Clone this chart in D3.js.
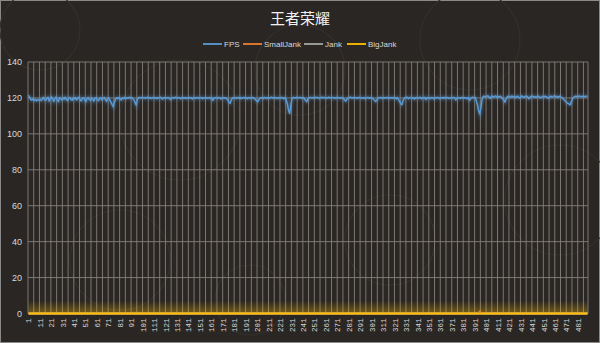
<!DOCTYPE html>
<html><head><meta charset="utf-8">
<script src="https://cdn.jsdelivr.net/npm/d3@7"></script>
<style>html,body{margin:0;padding:0;background:#2a2623;}svg{display:block;}</style>
</head><body>
<svg id="c" width="600" height="343"></svg>
<script>
const title = "王者荣耀";
const seriesNames = ["FPS","SmallJank","Jank","BigJank"];
const seriesColors = ["#5b9bd5","#ed7d31","#a5a5a5","#ffc000"];
const yTicks = [0,20,40,60,80,100,120,140];
const fps = [
121.5,120.2,119.0,118.8,119.5,118.6,119.1,118.4,119.0,118.7,
119.3,118.5,119.2,120.3,119.0,118.6,119.8,120.4,118.2,119.5,
120.6,119.4,118.0,119.7,120.5,119.1,117.9,120.2,119.6,118.8,
120.1,119.3,120.4,119.0,118.5,119.9,120.3,119.2,118.7,120.0,
119.4,120.2,118.9,119.6,120.5,119.0,118.3,119.8,120.1,119.2,
117.8,119.5,120.3,119.1,118.6,120.0,119.4,118.2,119.9,120.2,
119.0,118.4,119.7,120.1,118.9,119.5,120.3,119.2,118.1,119.6,
120.0,118.8,117.5,116.2,115.0,117.8,119.4,120.1,119.6,120.2,
119.3,118.9,120.0,119.7,120.3,119.5,120.1,119.8,120.4,119.9,
120.2,119.6,118.8,117.4,116.0,119.2,120.1,120.3,119.9,120.2,
120.0,120.3,119.7,120.1,120.4,119.9,120.2,119.6,120.0,120.3,
119.8,120.1,119.5,120.2,119.9,120.4,120.0,119.3,120.1,120.2,
119.7,120.0,120.3,119.6,119.1,120.0,120.2,119.8,120.4,120.1,
119.9,120.2,120.0,119.5,120.3,120.1,119.8,120.2,119.6,120.0,
120.3,119.9,120.1,119.4,120.2,120.0,119.7,120.3,120.1,119.8,
120.0,120.2,119.5,120.1,119.9,120.3,119.7,120.0,120.2,119.6,
120.1,118.6,119.8,120.2,120.0,119.7,120.3,120.1,119.4,120.0,
120.2,119.8,120.1,119.5,118.9,117.6,117.0,118.8,119.9,120.2,
120.0,119.7,120.3,120.1,119.8,120.2,119.6,120.0,120.3,119.9,
120.1,119.5,120.2,120.0,119.7,120.3,120.1,119.8,119.2,118.5,
117.8,118.9,119.9,120.2,120.0,119.6,120.3,120.1,119.8,120.2,
119.7,120.0,120.4,120.1,119.9,120.3,120.0,119.6,120.2,120.1,
119.8,120.3,120.0,119.5,120.2,119.0,116.5,113.0,111.3,115.8,
119.5,120.3,120.1,119.9,120.4,120.2,120.0,120.3,120.1,119.8,
120.2,119.5,118.4,117.9,119.6,120.1,120.3,120.0,120.2,119.9,
120.4,120.1,120.3,120.0,119.7,120.2,120.4,120.1,120.3,120.0,
119.8,120.2,120.4,120.1,119.9,120.3,120.0,120.2,119.7,120.1,
120.3,120.0,119.8,120.2,120.1,119.6,118.9,118.2,119.4,120.0,
120.2,120.4,120.1,119.9,120.3,120.0,120.2,119.8,120.1,120.3,
120.0,119.7,120.2,120.1,119.5,120.0,120.3,120.1,119.8,120.2,
120.0,119.4,118.8,118.0,118.7,119.6,120.1,120.3,120.0,119.7,
120.2,120.1,119.9,120.3,120.0,119.6,120.2,120.1,119.8,120.3,
120.0,119.5,120.2,119.1,118.0,116.8,116.2,118.5,119.8,120.2,
120.4,120.1,119.6,120.3,120.0,119.8,120.2,119.3,120.1,120.3,
119.7,120.0,120.4,119.5,120.1,119.9,120.3,119.0,120.2,119.8,
120.1,119.6,120.3,120.0,119.4,120.2,119.9,120.3,120.1,119.5,
120.0,120.2,119.7,120.4,119.8,120.1,120.3,119.6,120.0,120.2,
119.9,120.3,120.1,118.9,119.8,120.2,120.0,119.7,120.3,120.1,
119.8,120.2,120.0,119.6,120.1,118.7,119.5,120.2,120.4,119.9,
120.3,118.5,116.0,112.8,111.0,114.5,119.0,120.8,121.0,120.6,
120.9,121.2,120.5,119.8,120.7,121.0,120.4,120.9,121.1,120.3,
120.8,120.5,121.0,120.2,119.6,118.9,117.6,119.4,120.6,121.0,
120.7,120.3,121.1,120.5,120.9,120.2,120.6,121.0,120.4,119.9,
120.8,121.1,120.5,120.3,120.9,121.0,120.4,119.5,120.6,120.9,
121.0,120.5,120.8,120.2,120.7,121.1,120.6,120.0,120.4,120.9,
120.5,121.0,120.7,120.3,119.8,120.6,121.0,120.4,120.8,121.2,
120.6,120.9,120.2,120.7,121.0,120.5,120.1,119.4,118.8,118.0,
117.4,117.0,116.5,116.2,118.0,119.5,120.3,120.8,121.0,120.6,
120.9,121.1,120.7,120.8,121.0,120.6,120.9,121.0,120.8
];
// jank series are zero everywhere except these [category, value] events
const smallJankEvents = [[395,1]];
const jankEvents = [];
const bigJankEvents = [];

const categories = fps.map((d,i)=>i+1);
function fromEvents(ev){ const m=new Map(ev); return categories.map(c=>m.get(c)||0); }
const series = [fps, fromEvents(smallJankEvents), fromEvents(jankEvents), fromEvents(bigJankEvents)];

const svg = d3.select("#c");
const W=600,H=343, L=28, R=588, T=62, B=313.5;
const bg = "#2a2623";
svg.append("rect").attr("x",0.5).attr("y",0.5).attr("width",W-1).attr("height",H-1)
  .attr("fill",bg).attr("stroke","#8a8a8a").attr("stroke-width",1);

// faint background ornament
const orn = svg.append("g").attr("fill","none").attr("stroke","#34302c").attr("stroke-width",1.2);
[[40,30,40],[180,120,60],[300,70,45],[470,40,50],[560,200,55],[120,260,50],[390,240,45],[250,300,35]].forEach(c=>{
  orn.append("circle").attr("cx",c[0]).attr("cy",c[1]).attr("r",c[2]);
});

const defs = svg.append("defs");
const f1 = defs.append("filter").attr("id","glow").attr("x","-10%").attr("y","-50%").attr("width","120%").attr("height","200%");
f1.append("feGaussianBlur").attr("stdDeviation",1.5);
const grad = defs.append("linearGradient").attr("id","ygl").attr("x1",0).attr("x2",0).attr("y1",0).attr("y2",1);
grad.append("stop").attr("offset","0%").attr("stop-color","#ffc000").attr("stop-opacity",0);
grad.append("stop").attr("offset","100%").attr("stop-color","#ffc000").attr("stop-opacity",0.35);

const x = d3.scaleBand().domain(categories).range([L,R]).paddingInner(0).paddingOuter(0);
const y = d3.scaleLinear().domain([0,140]).range([B,T]);

// horizontal gridlines
svg.append("g").selectAll("line").data(yTicks).join("line")
  .attr("x1",L).attr("x2",R).attr("y1",d=>y(d)).attr("y2",d=>y(d))
  .attr("stroke","#85807a").attr("stroke-width",0.9);
// vertical gridlines every 5 categories (at boundaries)
const vb = categories.filter(c=>(c-1)%5===0);
svg.append("g").selectAll("line").data(vb.concat([null])).join("line")
  .attr("x1",d=>d===null?R:x(d)).attr("x2",d=>d===null?R:x(d))
  .attr("y1",T).attr("y2",B)
  .attr("stroke","#85807a").attr("stroke-width",0.9);

// yellow glow above zero line (area of the BigJank series shifted by glow height)
const glowArea = d3.area().x((d,i)=>x(categories[i])+x.bandwidth()/2).y0(d=>y(d)).y1(d=>y(d)-13);
svg.append("path").attr("d",glowArea(series[3])).attr("fill","url(#ygl)");

// y axis labels
const yAxis = d3.axisLeft(y).tickValues(yTicks).tickSize(0).tickPadding(6);
const ga = svg.append("g").attr("transform",`translate(${L},0)`).call(yAxis);
ga.select(".domain").remove();
ga.selectAll("text").attr("fill","#d9d9d9").attr("font-family","Liberation Sans, Arial, sans-serif").attr("font-size",9);

// x axis labels (rotated)
const xl = categories.filter(c=>(c-1)%10===0);
svg.append("g").selectAll("text").data(xl).join("text")
  .attr("transform",d=>`translate(${x(d)+x.bandwidth()/2+2.6},${B+5}) rotate(-90)`)
  .attr("text-anchor","end")
  .attr("fill","#d9d9d9").attr("font-family","Liberation Mono, DejaVu Sans Mono, monospace")
  .attr("font-size",7.5).text(d=>d);

const line = d3.line().x((d,i)=>x(categories[i])+x.bandwidth()/2).y(d=>y(d));

[0,1,2,3].forEach(s=>{
  const g = svg.append("g");
  if (s===0) {
    g.append("path").attr("d",line(series[s])).attr("fill","none")
      .attr("stroke",seriesColors[s]).attr("stroke-opacity",0.45).attr("stroke-width",3).attr("filter","url(#glow)");
  }
  g.append("path").attr("d",line(series[s])).attr("fill","none")
    .attr("stroke",seriesColors[s]).attr("stroke-width",s===0?1.4:1.8).attr("stroke-linejoin","round");
});
svg.append("g").selectAll("circle").data(smallJankEvents).join("circle")
  .attr("cx",d=>x(d[0])+x.bandwidth()/2).attr("cy",d=>y(d[1])).attr("r",1.2).attr("fill",seriesColors[1]);

// title
svg.append("text").attr("x",300).attr("y",24).attr("text-anchor","middle")
  .attr("fill","#f2f2f2").attr("font-family","Noto Sans CJK SC, sans-serif").attr("font-size",15).text(title);

// legend
const legX = [203,243,304,347];
const lg = svg.append("g").attr("font-family","Liberation Sans, Arial, sans-serif").attr("font-size",8).attr("fill","#d9d9d9");
seriesNames.forEach((n,i)=>{
  lg.append("line").attr("x1",legX[i]).attr("x2",legX[i]+19).attr("y1",44).attr("y2",44)
    .attr("stroke",seriesColors[i]).attr("stroke-width",1.8);
  lg.append("text").attr("x",legX[i]+21).attr("y",47).text(n);
});
</script>
</body></html>
